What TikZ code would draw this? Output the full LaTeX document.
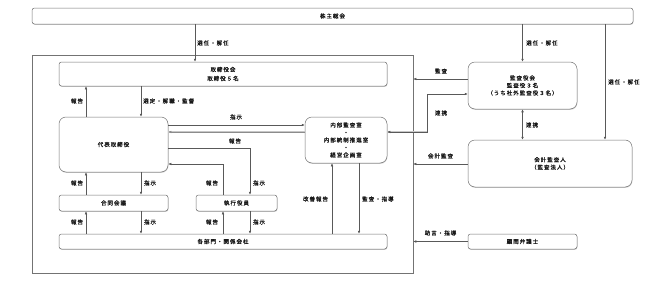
\documentclass[tikz,border=0pt]{standalone}
\usepackage{fontspec}
\newfontfamily\jp[LetterSpace=18,FakeBold=0.9]{Noto Sans CJK JP}
\usetikzlibrary{arrows.meta,shadows}
\begin{document}
\begin{tikzpicture}[x=1pt,y=-1pt,
  every node/.style={font=\jp\fontsize{5.5}{7.5}\selectfont, text=black!90},
  box/.style={draw=black!55, line width=0.5pt, rounded corners=2.5pt, inner sep=0pt, align=center, fill=white,
    drop shadow={shadow xshift=0.4pt, shadow yshift=-0.8pt, fill=black!20, opacity=1}},
  bigbox/.style={box, rounded corners=7pt},
  arr/.style={draw=black!65, line width=0.5pt, -{Latex[length=3pt,width=2.6pt]}},
  darr/.style={arr, {Latex[length=3pt,width=2.6pt]}-{Latex[length=3pt,width=2.6pt]}},
  grayline/.style={draw=black!22, line width=1.4pt},
  lab/.style={inner sep=0pt, anchor=center},
  labw/.style={inner sep=0pt, anchor=west}
]
\useasboundingbox (0,0) rectangle (660,281);

% frame
\node[draw=black!55, line width=0.5pt, minimum width=381pt, minimum height=218pt, inner sep=0pt,
  drop shadow={shadow xshift=0.4pt, shadow yshift=-0.8pt, fill=black!20, opacity=1}, fill=white] (frame) at (222.5,164) {};

% boxes
\node[box, minimum width=601pt, minimum height=16pt] (kabu) at (332.5,16) {株主総会};
\node[box, minimum width=328pt, minimum height=24pt, font=\jp\fontsize{5.5}{9}\selectfont] (tori) at (223,74) {取締役会\\取締役５名};
\node[bigbox, minimum width=109pt, minimum height=55pt] (daihyo) at (113.5,144.5) {代表取締役};
\node[box, minimum width=109pt, minimum height=16pt] (goudou) at (113.5,203) {合同会議};
\node[box, minimum width=81pt, minimum height=16pt] (shikko) at (236.5,203) {執行役員};
\node[box, minimum width=328pt, minimum height=15pt] (kakubu) at (223,241.5) {各部門・関係会社};
\node[bigbox, minimum width=82pt, minimum height=46pt] (naibu) at (346,140) {内部監査室\\・\\内部統制推進室\\・\\経営企画室};
\node[bigbox, minimum width=109pt, minimum height=47pt] (kansa) at (522.5,85.5) {監査役会\\監査役３名\\（うち社外監査役３名）};
\node[bigbox, minimum width=164pt, minimum height=47pt] (kaikei) at (550,163.5) {会計監査人\\（監査法人）};
\node[box, minimum width=109pt, minimum height=15pt] (komon) at (522.5,241.5) {顧問弁護士};

% helper coordinates
\coordinate (xk) at (195,0);
\coordinate (xa) at (86,0);
\coordinate (xb) at (141,0);
\coordinate (xc) at (223,0);
\coordinate (xd) at (250,0);
\coordinate (xe) at (332,0);
\coordinate (xf) at (359,0);
\coordinate (xh) at (605,0);
\coordinate (xw) at (427,0);
\coordinate (ya) at (0,125);
\coordinate (yb) at (0,132);
\coordinate (yc) at (0,148);
\coordinate (yd) at (0,164);
\coordinate (ye) at (0,79);
\coordinate (yf) at (0,94);
\coordinate (yg) at (0,164);

% connectors
\draw[arr] (kabu.south -| xk) -- (tori.north -| xk);
\draw[arr] (daihyo.north -| xa) -- (tori.south -| xa);
\draw[arr] (tori.south -| xb) -- (daihyo.north -| xb);
\draw[arr] (daihyo.east |- ya) -- (naibu.west |- ya);
\draw[grayline] (naibu.west |- yb) -- (daihyo.east |- yb);
\draw[arr, draw=black!45] (naibu.west |- yb) -- (daihyo.east |- yb);
\draw[arr] (daihyo.east |- yc) -| (shikko.north -| xd);
\draw[arr] (shikko.north -| xc) |- (daihyo.east |- yd);
\draw[arr] (goudou.north -| xa) -- (daihyo.south -| xa);
\draw[arr] (daihyo.south -| xb) -- (goudou.north -| xb);
\draw[arr] (kakubu.north -| xa) -- (goudou.south -| xa);
\draw[arr] (goudou.south -| xb) -- (kakubu.north -| xb);
\draw[arr] (kakubu.north -| xc) -- (shikko.south -| xc);
\draw[arr] (shikko.south -| xd) -- (kakubu.north -| xd);
\draw[arr] (kakubu.north -| xe) -- (naibu.south -| xe);
\draw[arr] (naibu.south -| xf) -- (kakubu.north -| xf);
\draw[arr] (kabu.south -| kansa.north) -- (kansa.north);
\draw[arr] (kabu.south -| xh) -- (kaikei.north -| xh);
\draw[arr] (kansa.west |- ye) -- (frame.east |- ye);
\draw[grayline] (xw |- yb) -- (naibu.east |- yb);
\draw[darr] (kansa.west |- yf) -- (xw |- yf) -- (xw |- yb) -- (naibu.east |- yb);
\draw[darr] (kansa.south) -- (kaikei.north -| kansa.south);
\draw[arr] (kaikei.west |- yg) -- (frame.east |- yg);
\draw[arr] (komon.west) -- (frame.east |- komon.west);

% labels
\node[labw] (l1) at (197,43) {選任・解任};
\node[labw] (l2) at (526,43) {選任・解任};
\node[labw] (l3) at (608,82) {選任・解任};
\node[lab] (l4) at (77,101) {報告};
\node[labw] (l5) at (143,101) {選定・解職・監督};
\node[lab] (l6) at (236,117) {指示};
\node[lab] (l7) at (235,141) {報告};
\node[lab] (l8) at (77,183) {報告};
\node[lab] (l9) at (150,183) {指示};
\node[lab] (l10) at (212,183) {報告};
\node[lab] (l11) at (259,183) {指示};
\node[lab] (l12) at (77,222) {報告};
\node[lab] (l13) at (150,222) {指示};
\node[lab] (l14) at (212,222) {報告};
\node[lab] (l15) at (259,222) {指示};
\node[lab] (l16) at (315.5,199) {改善報告};
\node[labw] (l17) at (362,199) {監査・指導};
\node[lab] (l18) at (441,71) {監査};
\node[lab] (l19) at (441,113) {連携};
\node[lab] (l20) at (532,125) {連携};
\node[lab] (l21) at (440.5,156) {会計監査};
\node[lab] (l22) at (440.5,233) {助言・指導};
\end{tikzpicture}
\end{document}
